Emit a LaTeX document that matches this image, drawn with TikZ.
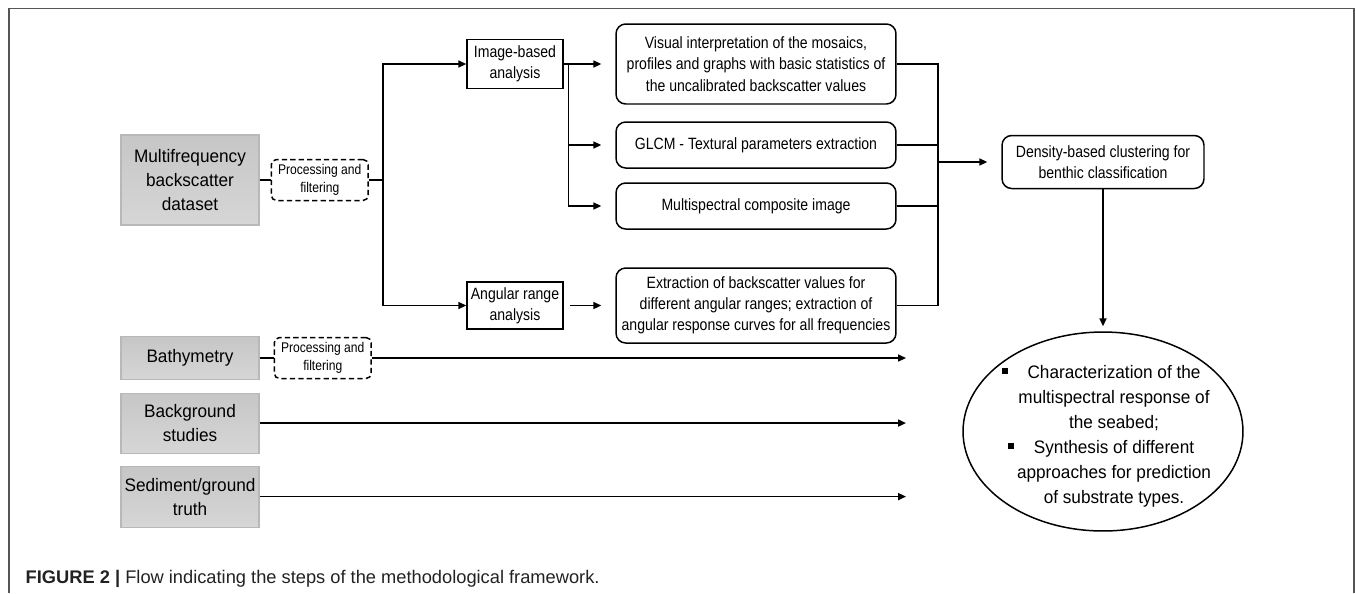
\documentclass[tikz,border=0pt]{standalone}
\usepackage{fontspec}
\setmainfont{Liberation Sans}
\newfontfamily\condsf{Liberation Sans}[FakeStretch=0.86]
\newfontfamily\semisf{Liberation Sans}[FakeStretch=0.95]
\usepackage{tikz}
\usetikzlibrary{positioning, arrows.meta, shapes.geometric}
\definecolor{framegray}{HTML}{555555}
\definecolor{srcfill}{HTML}{C6C6C6}
\definecolor{srcfillb}{HTML}{D6D6D6}
\definecolor{srcline}{HTML}{B8B8B8}
\definecolor{inkgray}{HTML}{222222}
\newcommand{\sqbullet}{\llap{\raisebox{0.09cm}{\rule{0.11cm}{0.11cm}}\hspace{0.4cm}}}

\begin{document}
\begin{tikzpicture}[
        x=0.02cm, y=-0.02cm,
        >={Triangle[length=4.5pt,width=4pt]},
        line width=0.85pt,
        source/.style={draw=srcline, line width=0.6pt, top color=srcfill, bottom color=srcfillb, minimum width=2.76cm, minimum height=#1, align=center, inner sep=1pt, font=\semisf\fontsize{10.3}{13.6}\selectfont},
        source/.default=0.86cm,
        procbox/.style={draw, dash pattern=on 3pt off 1.8pt, rounded corners=3pt, minimum width=1.94cm, minimum height=0.82cm, align=center, inner sep=0pt, font=\condsf\fontsize{8}{10.4}\selectfont},
        stage/.style={draw, minimum width=1.92cm, minimum height=#1, align=center, inner sep=0pt, font=\condsf\fontsize{9.3}{12.1}\selectfont},
        task/.style={draw, rounded corners=5.5pt, minimum width=#1, minimum height=0.92cm, align=center, inner sep=0pt, font=\condsf\fontsize{9.3}{12.1}\selectfont},
        task/.default=5.6cm,
        outcome/.style={ellipse, draw, minimum width=5.6cm, minimum height=3.98cm, inner sep=0pt}
    ]
        \useasboundingbox (0,0) rectangle (1355,593);
        \draw[framegray, line width=1.1pt] (9,593) -- (9,8.5) -- (1354,8.5) -- (1354,593);

        % data sources
        \node[source=1.8cm] (multi) at (190,180) {Multifrequency\\backscatter\\dataset};
        \node[procbox, right=0.22cm of multi] (proc1) {Processing and\\filtering};
        \node[source] (bathy) at (190,358) {Bathymetry};
        \node[procbox, right=0.28cm of bathy] (proc2) {Processing and\\filtering};
        \node[source=1.2cm, below=0.25cm of bathy] (backg) {Background\\studies};
        \node[source=1.22cm, below=0.24cm of backg] (sedim) {Sediment/ground\\truth};

        % analyses
        \node[stage=0.98cm] (imgan) at (515,64) {Image-based\\analysis};
        \node[stage=0.94cm] (angan) at (515,305.5) {Angular range\\analysis};
        \node[task, minimum height=1.6cm] (visual) at (756,64) {Visual interpretation of the mosaics,\\profiles and graphs with basic statistics of\\the uncalibrated backscatter values};
        \node[task] (glcm) at (756,145) {GLCM - Textural parameters extraction};
        \node[task] (compos) at (756,206) {Multispectral composite image};
        \node[task, minimum height=1.5cm] (extract) at (756,305.5) {Extraction of backscatter values for\\different angular ranges; extraction of\\angular response curves for all frequencies};
        \node[task=4.04cm, minimum height=1.06cm] (cluster) at (1103,162) {Density-based clustering for\\benthic classification};
        \node[outcome] (result) at (1103,431.5) {};
        \node[align=center, inner sep=0pt, font=\semisf\fontsize{10.3}{14.2}\selectfont] (resulttext) at (1114,436) {\sqbullet Characterization of the\\multispectral response of\\the seabed;\\\sqbullet Synthesis of different\\approaches for prediction\\of substrate types.};

        \coordinate (merge) at (938,162);
        \coordinate (bathyend) at (906,358);

        % connectors
        \draw (multi) -- (proc1);
        \draw (proc1.east) -- ++(14,0) coordinate (split);
        \draw[->] (split) |- (imgan.west);
        \draw[->] (split) |- (angan.west);
        \draw (imgan.east) -- ++(5,0) coordinate (fan);
        \foreach \t in {visual, glcm, compos}
            \draw[->, shorten >=0.28cm] (fan) |- (\t.west);
        \draw[->, shorten <=0.12cm, shorten >=0.28cm] (angan) -- (extract);
        \foreach \t in {visual, glcm, compos, extract}
            \draw (\t.east) -| (merge);
        \draw[->, shorten >=0.28cm] (merge) -- (cluster.west);
        \draw[->, shorten >=0.1cm] (cluster) -- (result);

        \draw (bathy) -- (proc2);
        \draw[->] (proc2) -- (bathyend);
        \draw[->] (backg.east) -- (backg.east -| bathyend);
        \draw[->] (sedim.east) -- (sedim.east -| bathyend);

        \node[anchor=base west, inner sep=0pt, text=inkgray, font=\fontsize{10.4}{12}\selectfont] (caption) at (25,583) {\textbf{FIGURE 2 |} Flow indicating the steps of the methodological framework.};
    \end{tikzpicture}
\end{document}
